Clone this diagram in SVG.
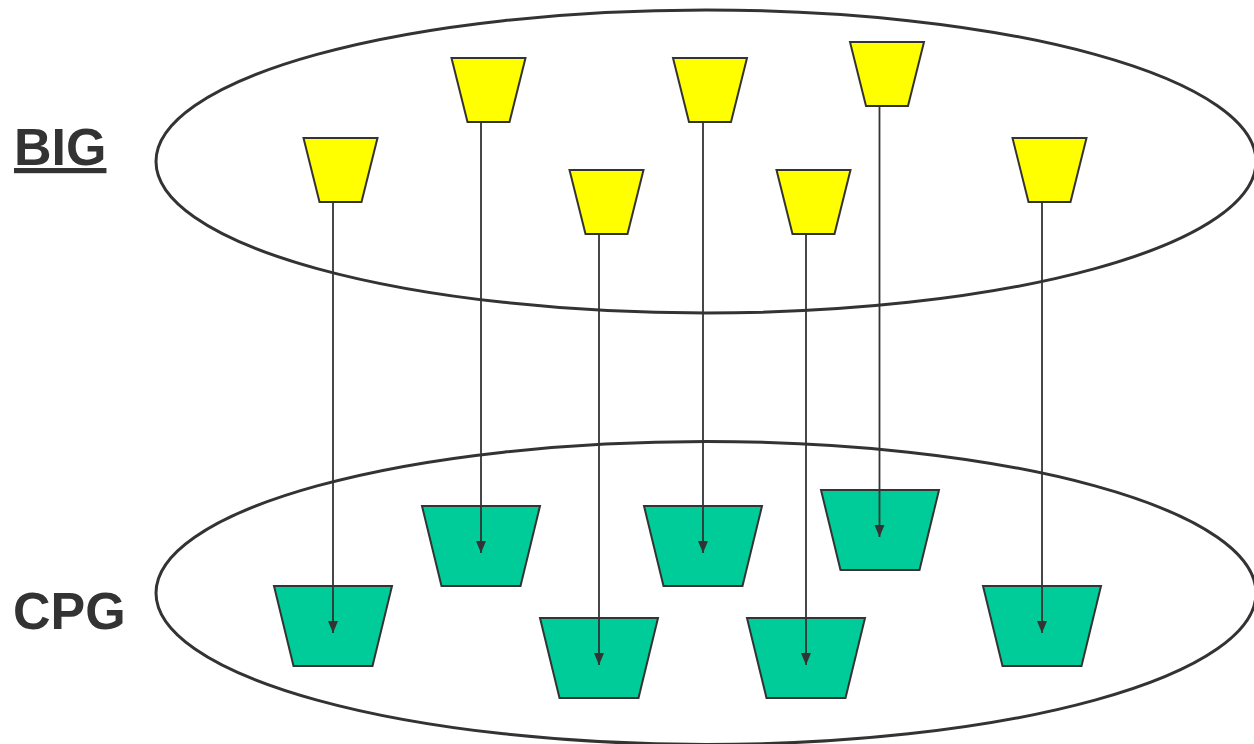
<svg xmlns="http://www.w3.org/2000/svg" xmlns:xlink="http://www.w3.org/1999/xlink" width="1254" height="744" viewBox="0 0 1254 744">
  <style>
    .ring { fill: none; stroke: #333333; stroke-width: 3; }
    .big { fill: #FFFF00; stroke: #333333; stroke-width: 2; }
    .cpg { fill: #00CC99; stroke: #333333; stroke-width: 2; }
    .conn { stroke: #333333; stroke-width: 1.8; fill: none; marker-end: url(#arrow); }
    .label { font-family: "Liberation Sans", Arial, sans-serif; font-weight: bold; font-size: 52px; fill: #333333; }
  </style>
  <defs>
    <marker id="arrow" markerUnits="userSpaceOnUse" markerWidth="12" markerHeight="12" viewBox="0 0 12 12" refX="12" refY="6" orient="auto">
      <path d="M0,1 L12,6 L0,11 Z" fill="#333333"/>
    </marker>
    <polygon id="ytrap" points="0,0 74,0 58,64 16,64"/>
    <polygon id="gtrap" points="-59,0 59,0 39.5,80 -39.5,80"/>
  </defs>
  <rect width="1254" height="744" fill="#ffffff"/>

  <g id="big-ring"><ellipse class="ring" cx="706" cy="161.5" rx="550" ry="151.5"/></g>
  <g id="cpg-ring"><ellipse class="ring" cx="706" cy="593" rx="550" ry="151.5"/></g>

  <g id="label-big"><text class="label" x="14" y="165" text-decoration="underline">BIG</text></g>
  <g id="label-cpg"><text class="label" x="13" y="629">CPG</text></g>

  <g id="big1"><use xlink:href="#ytrap" class="big" x="303.5" y="138"/></g>
  <g id="big2"><use xlink:href="#ytrap" class="big" x="451.5" y="58"/></g>
  <g id="big3"><use xlink:href="#ytrap" class="big" x="569.5" y="170"/></g>
  <g id="big4"><use xlink:href="#ytrap" class="big" x="673" y="58"/></g>
  <g id="big5"><use xlink:href="#ytrap" class="big" x="776.5" y="170"/></g>
  <g id="big6"><use xlink:href="#ytrap" class="big" x="850" y="42"/></g>
  <g id="big7"><use xlink:href="#ytrap" class="big" x="1012.5" y="138"/></g>

  <g id="cpg1"><use xlink:href="#gtrap" class="cpg" x="333" y="586"/></g>
  <g id="cpg2"><use xlink:href="#gtrap" class="cpg" x="481" y="506"/></g>
  <g id="cpg3"><use xlink:href="#gtrap" class="cpg" x="599" y="618"/></g>
  <g id="cpg4"><use xlink:href="#gtrap" class="cpg" x="703" y="506"/></g>
  <g id="cpg5"><use xlink:href="#gtrap" class="cpg" x="880" y="490"/></g>
  <g id="cpg6"><use xlink:href="#gtrap" class="cpg" x="806" y="618"/></g>
  <g id="cpg7"><use xlink:href="#gtrap" class="cpg" x="1042" y="586"/></g>

  <g id="connectors">
    <line class="conn" x1="333" y1="202" x2="333" y2="633"/>
    <line class="conn" x1="481" y1="122" x2="481" y2="553"/>
    <line class="conn" x1="599" y1="234" x2="599" y2="665"/>
    <line class="conn" x1="703" y1="122" x2="703" y2="553"/>
    <line class="conn" x1="806" y1="234" x2="806" y2="665"/>
    <line class="conn" x1="879.5" y1="106" x2="879.5" y2="537"/>
    <line class="conn" x1="1042" y1="202" x2="1042" y2="633"/>
  </g>
</svg>
